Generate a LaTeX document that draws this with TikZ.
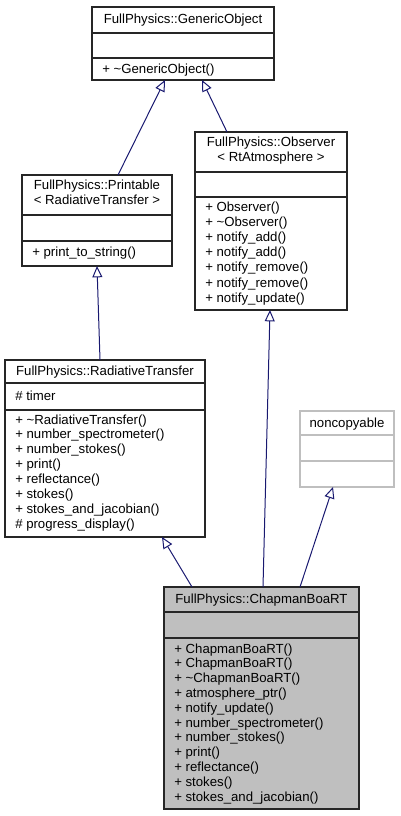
\documentclass[tikz,border=0pt]{standalone}
\usepackage{fontspec}
\setmainfont{Liberation Sans}
\usetikzlibrary{arrows.meta,calc,fit}
\definecolor{edgeblue}{RGB}{25,25,112}
\definecolor{boxgray}{RGB}{191,191,191}
\definecolor{lightborder}{RGB}{191,191,191}
\tikzset{
  umlbox/.style={draw=black!85, line width=0.9pt, inner sep=0pt, outer sep=0pt, fill=white},
  sepline/.style={draw=black!85, line width=0.9pt},
  txt/.style={inner sep=0pt, font=\fontsize{9.9pt}{11pt}\selectfont},
  titletxt/.style={txt, anchor=base},
  membertxt/.style={txt, anchor=base west},
  inherit/.style={draw=edgeblue, line width=0.75pt, -{Triangle[open, length=8.5pt, width=7.5pt]}},
}
\begin{document}
\begin{tikzpicture}[x=0.75pt,y=-0.75pt]
\useasboundingbox (0,0) rectangle (400,816);

% GenericObject
\node[umlbox, fit={(92,7) (274,80)}] (go) {};
\draw[sepline] (92,33) -- (274,33);
\draw[sepline] (92,58) -- (274,58);
\node[titletxt] (go-t) at (183,24) {FullPhysics::GenericObject};
\node[membertxt] (go-m) at (102,74) {+ \textasciitilde GenericObject()};

% Printable
\node[umlbox, fit={(22,175) (172,266)}] (pr) {};
\draw[sepline] (22,215) -- (172,215);
\draw[sepline] (22,241) -- (172,241);
\node[titletxt] (pr-t1) at (97,190) {FullPhysics::Printable};
\node[titletxt] (pr-t2) at (97,205) {< RadiativeTransfer >};
\node[membertxt] (pr-m) at (32,257) {+ print\_to\_string()};

% Observer
\node[umlbox, fit={(195,132) (347,310)}] (ob) {};
\draw[sepline] (195,172) -- (347,172);
\draw[sepline] (195,197) -- (347,197);
\node[titletxt] (ob-t1) at (271,147) {FullPhysics::Observer};
\node[titletxt] (ob-t2) at (271,162) {< RtAtmosphere >};
\foreach \t [count=\i from 0] in {+ Observer(), + \textasciitilde Observer(), + notify\_add(), + notify\_add(), + notify\_remove(), + notify\_remove(), + notify\_update()}
  \node[membertxt] (ob-m\i) at (205,212+15*\i) {\t};

% RadiativeTransfer
\node[umlbox, fit={(5,360) (205,537)}] (rt) {};
\draw[sepline] (5,383) -- (205,383);
\draw[sepline] (5,410) -- (205,410);
\node[titletxt] (rt-t) at (105,375) {FullPhysics::RadiativeTransfer};
\node[membertxt] (rt-a) at (15,400) {\# timer};
\foreach \t [count=\i from 0] in {+ \textasciitilde RadiativeTransfer(), + number\_spectrometer(), + number\_stokes(), + print(), + reflectance(), + stokes(), + stokes\_and\_jacobian(), \# progress\_display()}
  \node[membertxt] (rt-m\i) at (15,424+14.86*\i) {\t};

% noncopyable
\node[umlbox, draw=lightborder, fit={(300,411) (394,487)}] (nc) {};
\draw[sepline, draw=lightborder] (300,435) -- (394,435);
\draw[sepline, draw=lightborder] (300,461) -- (394,461);
\node[titletxt] (nc-t) at (347,427) {noncopyable};

% ChapmanBoaRT
\node[umlbox, fill=boxgray, fit={(164,587) (359,809)}] (cb) {};
\draw[sepline] (164,612) -- (359,612);
\draw[sepline] (164,638) -- (359,638);
\node[titletxt] (cb-t) at (261.5,603) {FullPhysics::ChapmanBoaRT};
\foreach \t [count=\i from 0] in {+ ChapmanBoaRT(), + ChapmanBoaRT(), + \textasciitilde ChapmanBoaRT(), + atmosphere\_ptr(), + notify\_update(), + number\_spectrometer(), + number\_stokes(), + print(), + reflectance(), + stokes(), + stokes\_and\_jacobian()}
  \node[membertxt] (cb-m\i) at (174,653+14.8*\i) {\t};

% connectors
\coordinate (pr-top) at ($(pr.north west)+(96,0)$);
\coordinate (go-bl) at ($(go.south west)+(73,0)$);
\coordinate (ob-top) at ($(ob.north west)+(32,0)$);
\coordinate (go-br) at ($(go.south west)+(110,0)$);
\coordinate (rt-top) at ($(rt.north west)+(95,0)$);
\coordinate (pr-bot) at ($(pr.south west)+(75,0)$);
\coordinate (cb-top1) at ($(cb.north west)+(28,0)$);
\coordinate (rt-bot) at ($(rt.south west)+(157,0)$);
\coordinate (cb-top2) at ($(cb.north west)+(99,0)$);
\coordinate (ob-bot) at ($(ob.south west)+(75,0)$);
\coordinate (cb-top3) at ($(cb.north west)+(136,0)$);
\coordinate (nc-bot) at ($(nc.south west)+(33,0)$);

\draw[inherit] (pr-top) -- (go-bl);
\draw[inherit] (ob-top) -- (go-br);
\draw[inherit] (rt-top) -- (pr-bot);
\draw[inherit] (cb-top1) -- (rt-bot);
\draw[inherit] (cb-top2) -- (ob-bot);
\draw[inherit] (cb-top3) -- (nc-bot);
\end{tikzpicture}
\end{document}
